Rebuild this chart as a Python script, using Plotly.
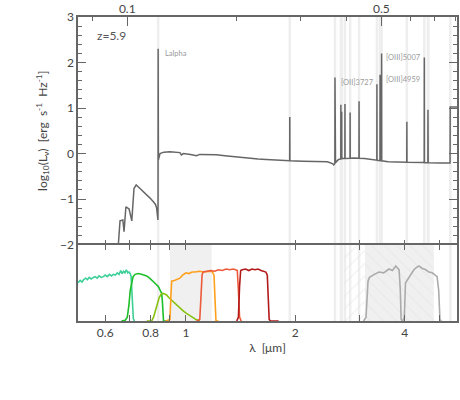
import numpy as np
import plotly.graph_objects as go

z = 5.9
wl_min, wl_max = 0.505, 5.57  # observed micron

# model spectrum continuum: observed wavelength (micron) and log10 L_nu
blue_wl = [0.650, 0.652, 0.659, 0.671, 0.676, 0.684, 0.698, 0.710, 0.720, 0.730,
           0.748, 0.765, 0.780, 0.797, 0.814, 0.825, 0.831, 0.8378]
blue_logl = [-2.6, -2.0, -1.48, -1.46, -1.72, -1.17, -1.22, -1.48, -0.77, -0.69,
             -0.77, -0.84, -0.91, -0.98, -1.06, -1.12, -1.20, -1.46]
red_wl = [0.8402, 0.849, 0.870, 0.904, 0.940, 0.963, 0.972, 0.985, 1.030, 1.070,
          1.092, 1.150, 1.214, 1.280, 1.348, 1.420, 1.497, 1.580, 1.663, 1.750,
          1.848, 1.928, 2.100, 2.300, 2.450, 2.530, 2.550, 2.580, 2.630, 2.700,
          2.900, 3.100, 3.300, 3.600, 4.000, 4.500, 5.000, 5.330, 5.336, 5.600]
red_logl = [-0.14, 0.00, 0.03, 0.04, 0.03, 0.02, -0.03, 0.00, -0.02, -0.05,
            -0.02, -0.02, -0.03, -0.05, -0.07, -0.09, -0.11, -0.12, -0.13, -0.14,
            -0.14, -0.16, -0.17, -0.18, -0.18, -0.22, -0.25, -0.20, -0.13, -0.11,
            -0.10, -0.11, -0.14, -0.18, -0.19, -0.20, -0.21, -0.21, 1.02, 1.02]

# emission lines: rest wavelength (micron) and peak log10 L_nu
line_rest = [0.1216, 0.2799, 0.3727, 0.3869, 0.3889, 0.3970, 0.4102, 0.4341,
             0.4861, 0.4959, 0.5007, 0.5876, 0.6563, 0.6716, 0.6731]
line_peak = [2.30, 0.80, 1.67, 1.07, 0.92, 1.09, 0.90, 1.15,
             1.52, 1.73, 2.20, 0.70, 2.11, 0.96, 0.85]
marker_rest = line_rest + [0.7740]

label_text = ["Lalpha", "[OII]3727", "[OIII]4959", "[OIII]5007"]
label_logwl = [-0.063, 0.4205, 0.5438, 0.5438]
label_logl = [2.19, 1.55, 1.62, 2.10]

# filter curves (observed micron, scaled transmission)
f606_wl = [0.505, 0.512, 0.518, 0.523, 0.530, 0.536, 0.542, 0.549, 0.557, 0.563,
           0.570, 0.577, 0.585, 0.593, 0.600, 0.608, 0.616, 0.624, 0.632, 0.640,
           0.648, 0.655, 0.662, 0.668, 0.674, 0.680, 0.686, 0.692, 0.698, 0.703,
           0.707, 0.710, 0.713, 0.717, 0.722]
f606_t = [0.50, 0.53, 0.51, 0.54, 0.56, 0.54, 0.57, 0.55, 0.57, 0.58,
          0.56, 0.59, 0.57, 0.58, 0.60, 0.58, 0.61, 0.59, 0.61, 0.60,
          0.63, 0.61, 0.66, 0.62, 0.65, 0.63, 0.67, 0.63, 0.64, 0.62,
          0.58, 0.40, 0.19, 0.03, 0.0]
f775_wl = [0.665, 0.681, 0.690, 0.697, 0.703, 0.710, 0.716, 0.725, 0.740, 0.755,
           0.770, 0.780, 0.795, 0.814, 0.828, 0.840, 0.849, 0.858, 0.862, 0.865,
           0.868, 0.900]
f775_t = [0.0, 0.01, 0.05, 0.20, 0.40, 0.53, 0.58, 0.61, 0.62, 0.61,
          0.60, 0.59, 0.56, 0.52, 0.48, 0.45, 0.40, 0.36, 0.25, 0.10,
          0.0, 0.0]
f850_wl = [0.780, 0.805, 0.815, 0.825, 0.835, 0.845, 0.855, 0.863, 0.872, 0.885,
           0.900, 0.923, 0.945, 0.963, 0.985, 1.004, 1.025, 1.047, 1.070, 1.092]
f850_t = [0.0, 0.0, 0.05, 0.14, 0.24, 0.31, 0.35, 0.36, 0.355, 0.34,
          0.30, 0.25, 0.21, 0.17, 0.13, 0.10, 0.07, 0.04, 0.015, 0.0]
f105_wl = [0.880, 0.904, 0.909, 0.914, 0.930, 0.950, 0.963, 0.980, 1.000, 1.020,
           1.040, 1.060, 1.090, 1.120, 1.150, 1.180, 1.195, 1.203, 1.210, 1.230]
f105_t = [0.0, 0.02, 0.30, 0.52, 0.53, 0.55, 0.56, 0.60, 0.63, 0.62,
          0.64, 0.64, 0.65, 0.64, 0.65, 0.65, 0.60, 0.20, 0.0, 0.0]
f125_wl = [1.070, 1.092, 1.100, 1.108, 1.115, 1.140, 1.170, 1.200, 1.230, 1.260,
           1.290, 1.320, 1.350, 1.370, 1.385, 1.395, 1.405, 1.420]
f125_t = [0.0, 0.02, 0.30, 0.60, 0.64, 0.65, 0.66, 0.65, 0.67, 0.66,
          0.68, 0.67, 0.68, 0.67, 0.66, 0.40, 0.05, 0.0]
f160_wl = [1.380, 1.395, 1.405, 1.415, 1.430, 1.460, 1.490, 1.520, 1.550, 1.580,
           1.610, 1.640, 1.660, 1.675, 1.685, 1.695, 1.710, 1.800]
f160_t = [0.0, 0.05, 0.45, 0.66, 0.67, 0.68, 0.66, 0.68, 0.67, 0.68,
          0.66, 0.65, 0.64, 0.60, 0.30, 0.02, 0.0, 0.0]
ch1_wl = [3.08, 3.13, 3.17, 3.20, 3.30, 3.40, 3.50, 3.62, 3.70, 3.78, 3.86, 3.89, 3.91, 3.95]
ch1_t = [0.0, 0.05, 0.52, 0.57, 0.61, 0.64, 0.63, 0.68, 0.66, 0.72, 0.67, 0.40, 0.02, 0.0]
ch2_wl = [3.95, 3.99, 4.02, 4.06, 4.11, 4.17, 4.24, 4.31, 4.38, 4.46,
          4.57, 4.66, 4.76, 4.85, 4.91, 4.96, 5.00, 5.05]
ch2_t = [0.0, 0.05, 0.50, 0.53, 0.58, 0.62, 0.67, 0.70, 0.72, 0.69,
         0.67, 0.64, 0.63, 0.60, 0.58, 0.40, 0.02, 0.0]

filters = [
    (f606_wl, f606_t, "#3ccf98"),
    (f775_wl, f775_t, "#1fbf2a"),
    (f850_wl, f850_t, "#86c20e"),
    (f105_wl, f105_t, "#ffa01c"),
    (f125_wl, f125_t, "#ec5a3a"),
    (f160_wl, f160_t, "#b31a1a"),
    (ch1_wl, ch1_t, "#ababab"),
    (ch2_wl, ch2_t, "#ababab"),
]

shaded_band = [0.904, 1.178]
hatch_wide = [2.727, 4.81]
hatch_gray = [3.11, 4.81]

# build the spectrum: continuum with narrow emission spikes
cont_wl = np.array(blue_wl + red_wl)
cont_l = np.array(blue_logl + red_logl)
pts = list(zip(cont_wl, cont_l))
dw = 0.0007
for rest, peak in zip(line_rest, line_peak):
    obs = rest * (1 + z)
    for w in (obs * (1 - dw), obs * (1 + dw)):
        pts.append((w, float(np.interp(w, cont_wl, cont_l))))
    pts.append((obs, peak))
pts.sort(key=lambda p: p[0])
spec_wl = [p[0] for p in pts]
spec_l = [p[1] for p in pts]

fig = go.Figure()

font = "Lato, Open Sans, sans-serif"
axis_col = "#666666"

# hatched regions (bottom panel)
fig.add_trace(go.Scatter(
    x=[hatch_wide[0], hatch_wide[1], hatch_wide[1], hatch_wide[0], hatch_wide[0]],
    y=[0, 0, 1, 1, 0], xaxis="x2", yaxis="y2", mode="lines", fill="toself",
    line=dict(width=0), fillcolor="rgba(0,0,0,0)",
    fillpattern=dict(shape="/", fgcolor="#e0e0e0", bgcolor="rgba(0,0,0,0)",
                     size=9, solidity=0.12),
    showlegend=False, hoverinfo="skip",
))
fig.add_trace(go.Scatter(
    x=[hatch_gray[0], hatch_gray[1], hatch_gray[1], hatch_gray[0], hatch_gray[0]],
    y=[0, 0, 1, 1, 0], xaxis="x2", yaxis="y2", mode="lines", fill="toself",
    line=dict(width=0), fillcolor="#f0f0f0",
    fillpattern=dict(shape="\\", fgcolor="#e0e0e0", bgcolor="#f0f0f0",
                     size=9, solidity=0.12),
    showlegend=False, hoverinfo="skip",
))

for wl, t, col in filters:
    fig.add_trace(go.Scatter(
        x=wl, y=t, xaxis="x2", yaxis="y2", mode="lines",
        line=dict(color=col, width=1.6), showlegend=False,
    ))

fig.add_trace(go.Scatter(
    x=spec_wl, y=spec_l, xaxis="x", yaxis="y", mode="lines",
    line=dict(color="#666666", width=1.5), showlegend=False,
))

# dummy trace so the rest-frame axis is drawn
fig.add_trace(go.Scatter(
    x=[0.2], y=[10], xaxis="x3", yaxis="y", mode="markers",
    marker=dict(opacity=0), showlegend=False, hoverinfo="skip",
))

# light markers at emission line positions
for rest in marker_rest:
    fig.add_shape(
        type="line", xref="x", yref="paper",
        x0=rest * (1 + z), x1=rest * (1 + z), y0=0, y1=1,
        line=dict(color="#eeeeee", width=2.5), layer="below",
    )

fig.add_shape(
    type="rect", xref="x2", yref="y2 domain",
    x0=shaded_band[0], x1=shaded_band[1], y0=0, y1=1,
    fillcolor="#f0f0f0", line=dict(width=0), layer="below",
)

fig.add_annotation(
    xref="paper", yref="y", x=0.045, y=2.6, text="z=5.9", showarrow=False,
    xanchor="left", font=dict(size=12, color="#555555", family=font),
)
for txt, lx, ly in zip(label_text, label_logwl, label_logl):
    fig.add_annotation(
        xref="x", yref="y", x=lx, y=ly, text=txt, showarrow=False,
        xanchor="left", font=dict(size=7.5, color="#9a9a9a", family=font),
    )

obs_ticks = [0.6, 0.7, 0.8, 0.9, 1, 2, 3, 4, 5]
obs_text = ["0.6", "", "0.8", "", "1", "2", "", "4", ""]
log_range = [np.log10(wl_min), np.log10(wl_max)]
rest_range = [np.log10(wl_min / (1 + z)), np.log10(wl_max / (1 + z))]

common = dict(
    showline=True, linecolor=axis_col, linewidth=1.5, ticks="inside",
    tickcolor=axis_col, tickwidth=1.2, showgrid=False, zeroline=False,
    automargin=False,
    tickfont=dict(size=12, color="#444444", family=font),
)

split = 0.2516

fig.update_layout(
    width=460, height=400,
    margin=dict(l=78, r=1, t=17, b=79),
    paper_bgcolor="white", plot_bgcolor="rgba(0,0,0,0)",
    font=dict(family=font, color="#444444"),
    xaxis=dict(
        type="log", range=log_range, domain=[0, 1], anchor="y", side="bottom",
        tickvals=obs_ticks, showticklabels=False, ticklen=5, **common,
    ),
    xaxis3=dict(
        type="log", range=rest_range, overlaying="x", anchor="y", side="top",
        tickvals=[0.1, 0.5], ticktext=["0.1", "0.5"], ticklen=9,
        ticklabelstandoff=-3,
        minor=dict(tickmode="array", tickvals=[0.08, 0.2, 0.3, 0.4, 0.6, 0.7, 0.8],
                   ticks="inside", ticklen=4, tickcolor=axis_col),
        **common,
    ),
    yaxis=dict(
        domain=[split, 1], anchor="x", range=[-2, 3],
        tickvals=[-2, -1, 0, 1, 2, 3], ticklen=8, mirror="ticks",
        minor=dict(dtick=0.2, ticks="inside", ticklen=4, tickcolor=axis_col),
        title=dict(text="log<sub>10</sub>(L<sub>ν</sub>)  [erg  s<sup>-1</sup>  Hz<sup>-1</sup>]",
                   font=dict(size=12, color="#444444", family=font), standoff=10),
        **common,
    ),
    xaxis2=dict(
        type="log", range=log_range, domain=[0, 1], anchor="y2",
        tickvals=obs_ticks, ticktext=obs_text, ticklen=6, mirror="ticks",
        title=dict(text="λ  [μm]", font=dict(size=12, color="#444444", family=font),
                   standoff=4),
        **common,
    ),
    yaxis2=dict(
        domain=[0, split], anchor="x2", range=[0, 1],
        showticklabels=False, showline=True, mirror=True, ticks="",
        linecolor=axis_col, linewidth=1.5, showgrid=False, zeroline=False,
    ),
)
# the shared panel edge is drawn by the lower axis only
fig.layout.xaxis.showline = False

# drop the default page margin so the figure sits at the window's corner
fig.write_html(
    "out.html",
    config={"displayModeBar": False},
    post_script="document.body.style.margin='0px';",
)
